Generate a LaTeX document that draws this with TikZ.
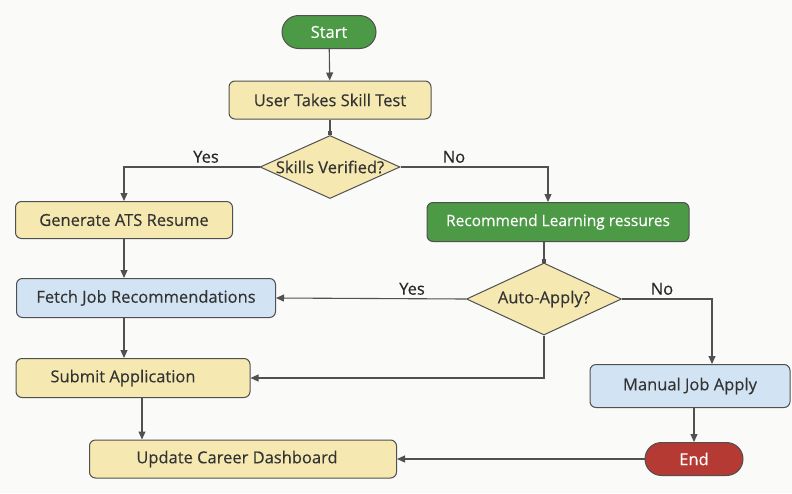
\documentclass[tikz,border=0pt]{standalone}
\usepackage{fontspec}
\setmainfont{Open Sans}[FakeBold=0.3]
\usepackage{tikz}
\usetikzlibrary{shapes.geometric,shapes.misc,arrows.meta}
\definecolor{bgcol}{HTML}{FAFAF8}
\definecolor{yelfill}{HTML}{F6E8B1}
\definecolor{bluefill}{HTML}{D2E4F4}
\definecolor{grnfill}{HTML}{4C9A45}
\definecolor{redfill}{HTML}{B53A33}
\definecolor{edgecol}{HTML}{505050}

\begin{document}
\begin{tikzpicture}[x=1pt,y=-1pt,font=\fontsize{16.5}{18}\selectfont,
  box/.style n args={3}{draw=edgecol,line width=1pt,fill=#1,text=#2,rounded corners=6pt,minimum width=#3,minimum height=38pt,inner sep=0pt},
  pill/.style n args={2}{draw=edgecol,line width=1pt,fill=#1,text=white,rounded rectangle,minimum width=#2,minimum height=33pt,inner sep=0pt},
  ask/.style n args={2}{draw=edgecol,line width=1pt,fill=yelfill,diamond,minimum width=#1,minimum height=#2,inner sep=0pt},
  asktext/.style={text=black!80,inner sep=0pt},
  flow/.style={draw=edgecol,line width=1.1pt,-{Triangle[length=8pt,width=7pt]}},
  into/.style={draw=edgecol,line width=1.1pt,-{Square[length=4pt,width=4pt]}},
  lbl/.style={text=black!85,anchor=south,inner sep=2pt}]
\useasboundingbox[fill=bgcol] (0,0) rectangle (792,493);
% nodes
\node[pill={grnfill}{94pt}] (start) at (329,32) {Start};
\node[box={yelfill}{black!80}{202pt}] (uts) at (330,100) {User Takes Skill Test};
\node[ask={140pt}{63pt}] (sv) at (330,167) {};
\node[asktext] (svtext) at (sv) {Skills Verified?};
\node[box={yelfill}{black!80}{217pt},minimum height=37pt] (gen) at (124,220) {Generate ATS Resume};
\node[box={grnfill}{white}{262pt},minimum height=39pt,font=\fontsize{15.5}{17}\selectfont] (rec) at (558,222) {Recommend Learning ressures};
\node[box={bluefill}{black!80}{259pt},minimum height=39pt] (fetch) at (146,298) {Fetch Job Recommendations};
\node[ask={155pt}{72pt}] (aa) at (544,299) {};
\node[asktext] (aatext) at (aa) {Auto-Apply?};
\node[box={yelfill}{black!80}{234pt},minimum height=39pt] (sub) at (133,378) {Submit Application\hspace*{20pt}};
\node[box={bluefill}{black!80}{200pt},minimum height=43pt] (man) at (690,386) {Manual Job Apply};
\node[box={yelfill}{black!80}{307pt}] (upd) at (243,459) {Update Career Dashboard\hspace*{12pt}};
\node[pill={redfill}{98pt}] (end) at (694,459) {End};
% connectors
\draw[flow] (start) -- (uts);
\draw[into] (uts) -- (sv);
\draw[flow] (sv.west) -| (gen.north);
\draw[flow] (sv.east) -| ([xshift=-10]rec.north);
\draw[flow] (gen.south) -- (gen.south |- fetch.north);
\draw[into] (aa.north |- rec.south) -- (aa.north);
\draw[flow] (aa.west) -- (fetch.east);
\draw[flow] (aa.east) -| ([xshift=22]man.north);
\draw[flow] (aa.south) |- (sub.east);
\draw[flow] (fetch.south -| gen.south) -- (gen.south |- sub.north);
\draw[flow] ([xshift=9]sub.south) -- ([xshift=9]sub.south |- upd.north);
\draw[flow] (end.north |- man.south) -- (end.north);
\draw[flow] (end) -- (upd);
% labels
\node[lbl] (yes1) at (206,165) {Yes};
\node[lbl] (no1) at (454,165) {No};
\node[lbl] (yes2) at (412,297) {Yes};
\node[lbl] (no2) at (662,297) {No};
\end{tikzpicture}
\end{document}
